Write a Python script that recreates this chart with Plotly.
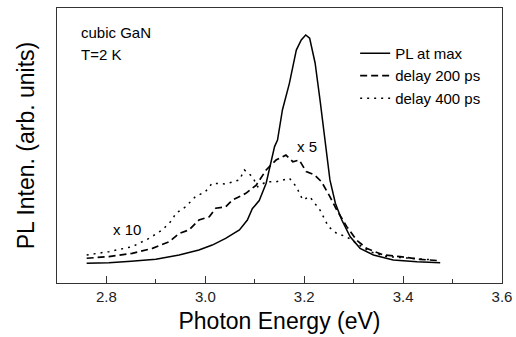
import plotly.graph_objects as go

# Photon energy (eV) and PL intensity (arb. units) for each trace
pl_max_x = [2.76, 2.805, 2.85, 2.90, 2.947, 2.987, 3.014, 3.041, 3.069, 3.085, 3.095, 3.109, 3.123, 3.133, 3.14, 3.146,
            3.156, 3.17, 3.184, 3.194, 3.203, 3.211, 3.222, 3.232, 3.242, 3.252, 3.263, 3.276, 3.293, 3.313,
            3.34, 3.38, 3.428, 3.475]
pl_max_y = [0.072, 0.074, 0.079, 0.086, 0.102, 0.12, 0.138, 0.162, 0.193, 0.229, 0.27, 0.30, 0.363, 0.447, 0.496, 0.52,
            0.63, 0.726, 0.847, 0.884, 0.902, 0.89, 0.80, 0.665, 0.52, 0.375, 0.29, 0.229, 0.168, 0.126,
            0.102, 0.084, 0.077, 0.074]

d200_x = [2.76, 2.805, 2.852, 2.893, 2.927, 2.947, 2.967, 2.987, 3.008, 3.021, 3.041, 3.055, 3.082, 3.103,
          3.123, 3.143, 3.163, 3.177, 3.19, 3.204, 3.221, 3.235, 3.252, 3.266, 3.286, 3.306, 3.326, 3.36,
          3.394, 3.434, 3.475]
d200_y = [0.09, 0.096, 0.108, 0.126, 0.15, 0.18, 0.193, 0.229, 0.241, 0.272, 0.277, 0.302, 0.326, 0.356,
          0.411, 0.447, 0.465, 0.441, 0.447, 0.405, 0.393, 0.368, 0.314, 0.265, 0.205, 0.156, 0.126, 0.102,
          0.096, 0.086, 0.081]

d400_x = [2.76, 2.805, 2.852, 2.886, 2.913, 2.933, 2.94, 2.96, 2.98, 3.0, 3.014, 3.041, 3.069, 3.079, 3.095,
          3.106, 3.123, 3.143, 3.17, 3.184, 3.197, 3.211, 3.232, 3.249, 3.266, 3.286, 3.306, 3.333, 3.367,
          3.414, 3.461]
d400_y = [0.102, 0.114, 0.132, 0.162, 0.193, 0.229, 0.253, 0.277, 0.314, 0.332, 0.363, 0.36, 0.375, 0.411, 0.387,
          0.35, 0.368, 0.368, 0.381, 0.35, 0.302, 0.314, 0.265, 0.205, 0.18, 0.168, 0.144, 0.114, 0.096,
          0.09, 0.084]

x_ticks = [2.8, 3.0, 3.2, 3.4, 3.6]
x_tick_labels = ["2.8", "3.0", "3.2", "3.4", "3.6"]

FONT = "Liberation Sans, Arial, sans-serif"

fig = go.Figure()
fig.add_trace(go.Scatter(x=pl_max_x, y=pl_max_y, mode="lines", name="PL at max",
                         line=dict(color="black", width=1.5)))
fig.add_trace(go.Scatter(x=d200_x, y=d200_y, mode="lines", name="delay 200 ps",
                         line=dict(color="black", width=1.7, dash="7px,4px")))
fig.add_trace(go.Scatter(x=d400_x, y=d400_y, mode="lines", name="delay 400 ps",
                         line=dict(color="black", width=1.5, dash="2px,5px")))

fig.update_layout(
    template="none",
    width=516, height=337,
    margin=dict(l=57, r=14, t=8, b=54, autoexpand=False),
    paper_bgcolor="white", plot_bgcolor="white",
    font=dict(family=FONT, color="black", size=15),
    showlegend=True,
    legend=dict(x=0.67, y=0.895, xanchor="left", yanchor="top", bgcolor="rgba(0,0,0,0)",
                font=dict(size=15), tracegroupgap=0, borderwidth=0),
    xaxis=dict(range=[2.7, 3.6], tickvals=x_ticks, ticktext=x_tick_labels, automargin=False,
               ticks="inside", ticklen=7, tickwidth=1.2, tickcolor="#333", showline=True, linecolor="#333",
               linewidth=1.2, mirror=True, showgrid=False, zeroline=False,
               tickfont=dict(size=15, color="#222"),
               minor=dict(ticks="inside", ticklen=4, dtick=0.1, tick0=2.7, tickcolor="#333", showgrid=False),
               title=dict(text="Photon Energy (eV)", font=dict(size=23), standoff=8)),
    yaxis=dict(range=[0, 1], showticklabels=False, ticks="", showline=True, linecolor="#333",
               automargin=False, linewidth=1.2, mirror=True, showgrid=False, zeroline=False,
               title=dict(text="PL Inten. (arb. units)", font=dict(size=23), standoff=14)),
    annotations=[
        dict(x=0.05, y=0.91, xref="paper", yref="paper", text="cubic GaN", showarrow=False,
             xanchor="left", yanchor="middle", font=dict(size=15)),
        dict(x=0.05, y=0.83, xref="paper", yref="paper", text="T=2 K", showarrow=False,
             xanchor="left", yanchor="middle", font=dict(size=15)),
        dict(x=3.182, y=0.495, text="x 5", showarrow=False, xanchor="left", yanchor="middle",
             font=dict(size=15)),
        dict(x=2.81, y=0.193, text="x 10", showarrow=False, xanchor="left", yanchor="middle",
             font=dict(size=15)),
    ],
)

fig.write_html("out.html", config={"displayModeBar": False},
               post_script="document.body.style.margin='0px';")
